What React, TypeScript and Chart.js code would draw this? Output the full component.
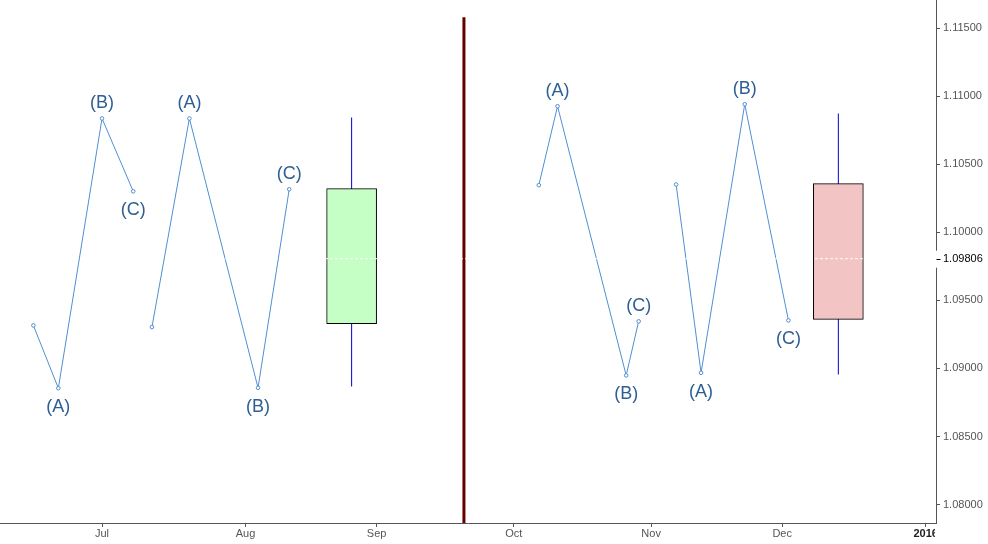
import React, { useEffect, useRef } from "react";
import { Chart, registerables } from "chart.js";

Chart.register(...registerables);

// ---- data ----
const baseDate = "2015-07-01"; // trading-day index 0
const xMinIndex = -16.35;
const xMaxIndex = 133.65;
const yMin = 1.07865;
const yMax = 1.11706;

const monthTickDates = ["2015-07-01", "2015-08-01", "2015-09-01", "2015-10-01", "2015-11-01", "2015-12-01", "2016-01-01"];
const monthTickLabels = ["Jul", "Aug", "Sep", "Oct", "Nov", "Dec", "2016"];

const priceTicks = [1.08, 1.085, 1.09, 1.095, 1.1, 1.105, 1.11, 1.115];
const currentPrice = 1.09806;

const wave1Dates = ["2015-06-16", "2015-06-22", "2015-07-01", "2015-07-08"];
const wave1Values = [1.09316, 1.08855, 1.10836, 1.10301];
const wave1Labels = ["", "(A)", "(B)", "(C)"];

const wave2Dates = ["2015-07-13", "2015-07-21", "2015-08-05", "2015-08-12"];
const wave2Values = [1.09304, 1.10836, 1.08858, 1.10316];
const wave2Labels = ["", "(A)", "(B)", "(C)"];

const wave3Dates = ["2015-10-07", "2015-10-12", "2015-10-27", "2015-10-29"];
const wave3Values = [1.10346, 1.10926, 1.08949, 1.09346];
const wave3Labels = ["", "(A)", "(B)", "(C)"];

const wave4Dates = ["2015-11-06", "2015-11-12", "2015-11-23", "2015-12-02"];
const wave4Values = [1.10351, 1.08968, 1.10941, 1.09353];
const wave4Labels = ["", "(A)", "(B)", "(C)"];

const candleDates = ["2015-08-26", "2015-12-14"];
const candleOpen = [1.09329, 1.10358];
const candleHigh = [1.10843, 1.10873];
const candleLow = [1.08868, 1.08956];
const candleClose = [1.10321, 1.0936];

const separatorDate = "2015-09-21";
const separatorTop = 1.1158;

// ---- helpers ----
const DAY = 86400000;
function tradingIndex(d: string): number {
  const a = Date.parse(baseDate + "T00:00:00Z");
  const b = Date.parse(d + "T00:00:00Z");
  const sign = b >= a ? 1 : -1;
  const lo = Math.min(a, b);
  const hi = Math.max(a, b);
  let n = 0;
  for (let t = lo; t < hi; t += DAY) {
    const wd = new Date(t).getUTCDay();
    if (wd !== 0 && wd !== 6) n++;
  }
  return sign * n;
}

const LINE_BLUE = "#4f8fd3";
const LABEL_BLUE = "#2d5f93";
const AXIS_GREY = "#555555";
const FONT = "'Liberation Sans', Arial, sans-serif";

function waveDataset(dates: string[], values: number[], labels: string[]) {
  return {
    type: "line" as const,
    data: dates.map((d, i) => ({ x: tradingIndex(d), y: values[i] })),
    waveLabels: labels,
    borderColor: LINE_BLUE,
    borderWidth: 1,
    pointRadius: 1.8,
    pointHoverRadius: 1.8,
    pointBorderWidth: 1,
    pointBackgroundColor: "#ffffff",
    pointBorderColor: LINE_BLUE,
    tension: 0,
    order: 3,
  };
}

function zeroPadding(scale: any) {
  scale.paddingLeft = 0;
  scale.paddingRight = 0;
  scale.paddingTop = 0;
  scale.paddingBottom = 0;
}

const labelPlugin = {
  id: "waveLabels",
  afterDatasetsDraw(chart: any) {
    const ctx = chart.ctx;
    ctx.save();
    ctx.font = `18px ${FONT}`;
    ctx.fillStyle = LABEL_BLUE;
    ctx.textAlign = "center";
    ctx.textBaseline = "middle";
    chart.data.datasets.forEach((ds: any, di: number) => {
      if (!ds.waveLabels) return;
      const meta = chart.getDatasetMeta(di);
      ds.waveLabels.forEach((lab: string, i: number) => {
        if (!lab) return;
        const el = meta.data[i];
        const up = ds.data[i].y > ds.data[i - 1].y;
        ctx.fillText(lab, el.x, up ? el.y - 15 : el.y + 19);
      });
    });
    ctx.restore();
  },
};

const axisPlugin = {
  id: "axisTouches",
  afterDraw(chart: any) {
    const ctx = chart.ctx;
    const area = chart.chartArea;
    const y = chart.scales.y.getPixelForValue(currentPrice);
    ctx.save();
    ctx.fillStyle = "#ffffff";
    // gap in the price axis around the current-price label
    ctx.fillRect(area.right - 2, y - 8, 6, 17);
    // clip x-labels beyond the plot area
    ctx.fillRect(area.right - 1, area.bottom + 6, 60, 30);
    ctx.strokeStyle = "#000000";
    ctx.lineWidth = 1;
    ctx.beginPath();
    ctx.moveTo(area.right + 0.5, Math.round(y) + 0.5);
    ctx.lineTo(area.right + 4.5, Math.round(y) + 0.5);
    ctx.stroke();
    ctx.restore();
  },
};

export default function App() {
  const ref = useRef<HTMLCanvasElement | null>(null);

  useEffect(() => {
    document.body.style.margin = "0";
    const canvas = ref.current;
    if (!canvas) return;

    const candleX = candleDates.map(tradingIndex);
    const candleColors = candleOpen.map((o, i) => (candleClose[i] >= o ? "#c6ffc6" : "#f2c4c4"));
    const sepX = tradingIndex(separatorDate);
    const monthTickValues = monthTickDates.map(tradingIndex);

    const chart = new Chart(canvas, {
      type: "line",
      data: {
        datasets: [
          waveDataset(wave1Dates, wave1Values, wave1Labels),
          waveDataset(wave2Dates, wave2Values, wave2Labels),
          waveDataset(wave3Dates, wave3Values, wave3Labels),
          waveDataset(wave4Dates, wave4Values, wave4Labels),
          {
            type: "bar",
            data: candleX.map((x, i) => ({ x, y: [candleLow[i], candleHigh[i]] })),
            backgroundColor: "#0000cc",
            borderWidth: 0,
            barThickness: 1,
            grouped: false,
            inflateAmount: 0,
            order: 6,
          },
          {
            type: "bar",
            data: candleX.map((x, i) => ({ x, y: [candleOpen[i], candleClose[i]] })),
            backgroundColor: candleColors,
            borderColor: "#000000",
            borderWidth: 1,
            borderSkipped: false,
            barThickness: 50,
            grouped: false,
            order: 5,
          },
          {
            type: "line",
            data: [
              { x: sepX, y: separatorTop },
              { x: sepX, y: yMin },
            ],
            borderColor: "#660000",
            borderWidth: 3,
            pointRadius: 0,
            pointHoverRadius: 0,
            order: 2,
          },
          {
            type: "line",
            data: [
              { x: xMinIndex, y: currentPrice },
              { x: xMaxIndex, y: currentPrice },
            ],
            borderColor: "rgba(255,255,255,0.95)",
            borderWidth: 1,
            borderDash: [3, 2],
            pointRadius: 0,
            pointHoverRadius: 0,
            order: 0,
          },
        ] as any,
      },
      options: {
        animation: false,
        responsive: false,
        maintainAspectRatio: false,
        layout: { padding: 0, autoPadding: false },
        plugins: {
          legend: { display: false },
          tooltip: { enabled: false },
        },
        scales: {
          x: {
            type: "linear",
            min: xMinIndex,
            max: xMaxIndex,
            offset: false,
            afterBuildTicks: (scale: any) => {
              scale.ticks = monthTickValues.map((v) => ({ value: v }));
            },
            afterFit: (scale: any) => {
              scale.height = 21;
              zeroPadding(scale);
            },
            grid: {
              display: true,
              offset: false,
              drawOnChartArea: false,
              drawTicks: true,
              tickLength: 4,
              color: AXIS_GREY,
            },
            border: { display: true, color: AXIS_GREY, width: 1 },
            ticks: {
              autoSkip: false,
              maxRotation: 0,
              padding: 0,
              color: (c: any) => (c.tick && c.tick.value === monthTickValues[6] ? "#222222" : AXIS_GREY),
              font: (c: any) =>
                c.tick && c.tick.value === monthTickValues[6]
                  ? { family: FONT, size: 11, weight: "bold" }
                  : { family: FONT, size: 11 },
              callback: (v: any) => {
                const idx = monthTickValues.indexOf(Number(v));
                return idx >= 0 ? monthTickLabels[idx] : "";
              },
            },
          },
          y: {
            type: "linear",
            position: "right",
            min: yMin,
            max: yMax,
            stacked: false,
            afterBuildTicks: (scale: any) => {
              scale.ticks = [...priceTicks, currentPrice].sort((a, b) => a - b).map((v) => ({ value: v }));
            },
            afterFit: (scale: any) => {
              scale.width = 52;
              zeroPadding(scale);
            },
            grid: {
              display: true,
              drawOnChartArea: false,
              drawTicks: true,
              tickLength: 4,
              color: AXIS_GREY,
            },
            border: { display: true, color: AXIS_GREY, width: 1 },
            ticks: {
              padding: 3,
              autoSkip: false,
              color: (c: any) => (c.tick && c.tick.value === currentPrice ? "#000000" : AXIS_GREY),
              font: { family: FONT, size: 11 },
              callback: (v: any) => Number(v).toFixed(5),
            },
          },
        },
      },
      plugins: [labelPlugin, axisPlugin],
    } as any);

    return () => chart.destroy();
  }, []);

  return (
    <div style={{ width: 988, height: 544, position: "relative" }}>
      <canvas ref={ref} width={988} height={544} style={{ display: "block" }} />
    </div>
  );
}
